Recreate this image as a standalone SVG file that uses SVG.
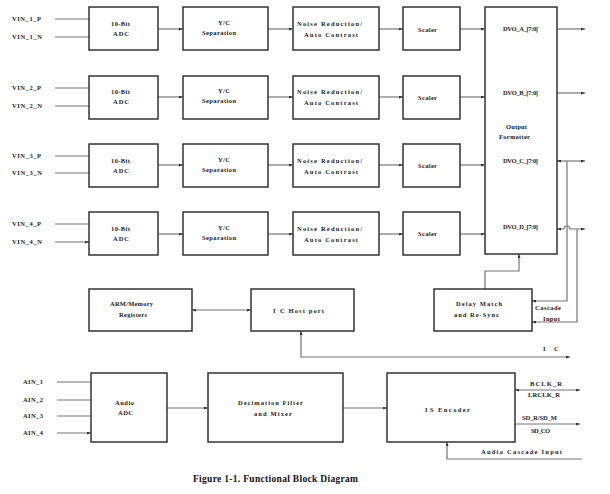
<svg xmlns="http://www.w3.org/2000/svg" width="610" height="494" viewBox="0 0 610 494">
<defs>
<marker id="ah" viewBox="0 0 8 6" markerUnits="userSpaceOnUse" markerWidth="4" markerHeight="3" refX="8" refY="3" orient="auto-start-reverse">
<path d="M0,0 L8,3 L0,6 z" fill="#333"/>
</marker>
<style>
.box{fill:#fff;stroke:#333;stroke-width:1.5}
.ln{fill:none;stroke:#777;stroke-width:1.2}
.a{marker-end:url(#ah)}
.s{marker-start:url(#ah)}
text{font-family:"Liberation Serif","Times New Roman",serif;font-size:6.5px;font-weight:bold;fill:#222}
.m{text-anchor:middle}
.cap{font-size:9.5px;fill:#111}
</style>
</defs>
<rect width="610" height="494" fill="#fff"/>

<g id="connectors">
<path class="ln a" d="M55,19H89M55,37H89M55,88H89M55,106H89M55,156H89M55,173H89M55,224H89M55,242H89"/>
<path class="ln a" d="M158,29H183"/><path class="ln a" d="M158,97H183"/><path class="ln a" d="M158,165H183"/><path class="ln a" d="M158,234H183"/>
<path class="ln a" d="M268,29H293"/><path class="ln a" d="M268,97H293"/><path class="ln a" d="M268,165H293"/><path class="ln a" d="M268,234H293"/>
<path class="ln a" d="M379,29H403"/><path class="ln a" d="M379,97H403"/><path class="ln a" d="M379,165H403"/><path class="ln a" d="M379,234H403"/>
<path class="ln a" d="M460,29H485"/><path class="ln a" d="M460,97H485"/><path class="ln a" d="M460,165H485"/><path class="ln a" d="M460,234H485"/>
<path class="ln a" d="M557,29H585"/>
<path class="ln a" d="M557,93H585"/>
<path class="ln a s" d="M557,161H585"/>
<path class="ln a s" d="M557,229H564A3,3 0 0 1 570,229H585"/>
<path class="ln a" d="M567,161V301H532"/>
<path class="ln a" d="M577,229V322H532"/>
<path class="ln a" d="M485,289V271H519V254"/>
<path class="ln a s" d="M192,310H251"/>
<path class="ln a s" d="M570,357H301V331"/>
<path class="ln a" d="M57,382H91M57,400H91M57,416H91M57,433H91"/>
<path class="ln a" d="M167,408H208"/>
<path class="ln a" d="M343,408H387"/>
<path class="ln a s" d="M515,390H580"/>
<path class="ln a" d="M515,424H580"/>
<path class="ln a" d="M582,459H447V442"/>
</g>

<g id="inputs">
<text x="12" y="21" textLength="29">VIN_1_P</text>
<text x="12" y="39" textLength="30">VIN_1_N</text>
<text x="12" y="90" textLength="29">VIN_2_P</text>
<text x="12" y="108" textLength="30">VIN_2_N</text>
<text x="12" y="158" textLength="29">VIN_3_P</text>
<text x="12" y="175" textLength="30">VIN_3_N</text>
<text x="12" y="226" textLength="29">VIN_4_P</text>
<text x="12" y="244" textLength="30">VIN_4_N</text>
</g>

<g id="adc1"><rect class="box" x="89" y="7" width="69" height="43"/><text class="m" x="120.5" y="26" textLength="19">10-Bit</text><text class="m" x="121" y="36" textLength="16">ADC</text></g>
<g id="adc2"><rect class="box" x="89" y="76" width="69" height="43"/><text class="m" x="120.5" y="94" textLength="19">10-Bit</text><text class="m" x="121" y="104" textLength="16">ADC</text></g>
<g id="adc3"><rect class="box" x="89" y="144" width="69" height="43"/><text class="m" x="120.5" y="163" textLength="19">10-Bit</text><text class="m" x="121" y="173" textLength="16">ADC</text></g>
<g id="adc4"><rect class="box" x="89" y="212" width="69" height="43"/><text class="m" x="120.5" y="231" textLength="19">10-Bit</text><text class="m" x="121" y="241" textLength="16">ADC</text></g>

<g id="yc1"><rect class="box" x="183" y="7" width="85" height="43"/><text class="m" x="224" y="25" textLength="12">Y/C</text><text class="m" x="219" y="35" textLength="34">Separation</text></g>
<g id="yc2"><rect class="box" x="183" y="76" width="85" height="43"/><text class="m" x="224" y="93" textLength="12">Y/C</text><text class="m" x="219" y="103" textLength="34">Separation</text></g>
<g id="yc3"><rect class="box" x="183" y="144" width="85" height="43"/><text class="m" x="224" y="162" textLength="12">Y/C</text><text class="m" x="219" y="172" textLength="34">Separation</text></g>
<g id="yc4"><rect class="box" x="183" y="212" width="85" height="43"/><text class="m" x="224" y="230" textLength="12">Y/C</text><text class="m" x="219" y="240" textLength="34">Separation</text></g>

<g id="nr1"><rect class="box" x="293" y="7" width="86" height="43"/><text class="m" x="329.5" y="26" textLength="65">Noise Reduction/</text><text class="m" x="331" y="37" textLength="54">Auto Contrast</text></g>
<g id="nr2"><rect class="box" x="293" y="76" width="86" height="43"/><text class="m" x="329.5" y="94" textLength="65">Noise Reduction/</text><text class="m" x="331" y="105" textLength="54">Auto Contrast</text></g>
<g id="nr3"><rect class="box" x="293" y="144" width="86" height="43"/><text class="m" x="329.5" y="163" textLength="65">Noise Reduction/</text><text class="m" x="331" y="174" textLength="54">Auto Contrast</text></g>
<g id="nr4"><rect class="box" x="293" y="212" width="86" height="43"/><text class="m" x="329.5" y="231" textLength="65">Noise Reduction/</text><text class="m" x="331" y="242" textLength="54">Auto Contrast</text></g>

<g id="sc1"><rect class="box" x="403" y="7" width="57" height="43"/><text class="m" x="427.5" y="32" textLength="19">Scaler</text></g>
<g id="sc2"><rect class="box" x="403" y="76" width="57" height="43"/><text class="m" x="427.5" y="100" textLength="19">Scaler</text></g>
<g id="sc3"><rect class="box" x="403" y="144" width="57" height="43"/><text class="m" x="427.5" y="168" textLength="19">Scaler</text></g>
<g id="sc4"><rect class="box" x="403" y="212" width="57" height="43"/><text class="m" x="427.5" y="236" textLength="19">Scaler</text></g>

<g id="formatter">
<rect class="box" x="485" y="7" width="72" height="247"/>
<text class="m" x="520.5" y="31" textLength="35">DVO_A_[7:0]</text>
<text class="m" x="520.5" y="95" textLength="35">DVO_B_[7:0]</text>
<text class="m" x="516.5" y="129" textLength="21">Output</text>
<text class="m" x="514.5" y="139" textLength="31">Formatter</text>
<text class="m" x="520.5" y="163" textLength="35">DVO_C_[7:0]</text>
<text class="m" x="520.5" y="229" textLength="35">DVO_D_[7:0]</text>
</g>

<g id="arm"><rect class="box" x="89" y="289" width="103" height="42"/><text class="m" x="131.5" y="306" textLength="43">ARM/Memory</text><text class="m" x="133" y="317" textLength="28">Registers</text></g>
<g id="hostport"><rect class="box" x="251" y="289" width="103" height="42"/><text x="273" y="313">I</text><text x="280" y="313" textLength="44">C Host port</text></g>
<g id="delay"><rect class="box" x="434" y="289" width="98" height="42"/><text class="m" x="479" y="306" textLength="46">Delay Match</text><text class="m" x="476.5" y="317" textLength="45">and Re-Sync</text></g>

<g id="labels">
<text class="m" x="548" y="310" textLength="26">Cascade</text>
<text class="m" x="551.5" y="321" textLength="17">Input</text>
<text x="543" y="351">I</text><text x="554" y="351">C</text>
<text x="23" y="384" textLength="20">AIN_1</text>
<text x="23" y="402" textLength="20">AIN_2</text>
<text x="23" y="418" textLength="20">AIN_3</text>
<text x="23" y="435" textLength="20">AIN_4</text>
<text class="m" x="546" y="386" textLength="32">BCLK_R</text>
<text class="m" x="544" y="397" textLength="32">LRCLK_R</text>
<text class="m" x="539.5" y="420" textLength="35">SD_R/SD_M</text>
<text class="m" x="540.5" y="433" textLength="19">SD_CO</text>
<text class="m" x="521.5" y="454" textLength="81">Audio Cascade Input</text>
</g>

<g id="audioadc"><rect class="box" x="91" y="373" width="76" height="69"/><text class="m" x="124.5" y="405" textLength="19">Audio</text><text class="m" x="125.5" y="415" textLength="15">ADC</text></g>
<g id="decim"><rect class="box" x="208" y="373" width="135" height="69"/><text class="m" x="270.5" y="405" textLength="65">Decimation Filter</text><text class="m" x="273" y="416" textLength="38">and Mixer</text></g>
<g id="i2s"><rect class="box" x="387" y="373" width="128" height="69"/><text x="425" y="412">I</text><text x="430" y="412" textLength="40">S Encoder</text></g>

<text class="cap m" x="275.5" y="482" textLength="165">Figure 1-1. Functional Block Diagram</text>
</svg>
